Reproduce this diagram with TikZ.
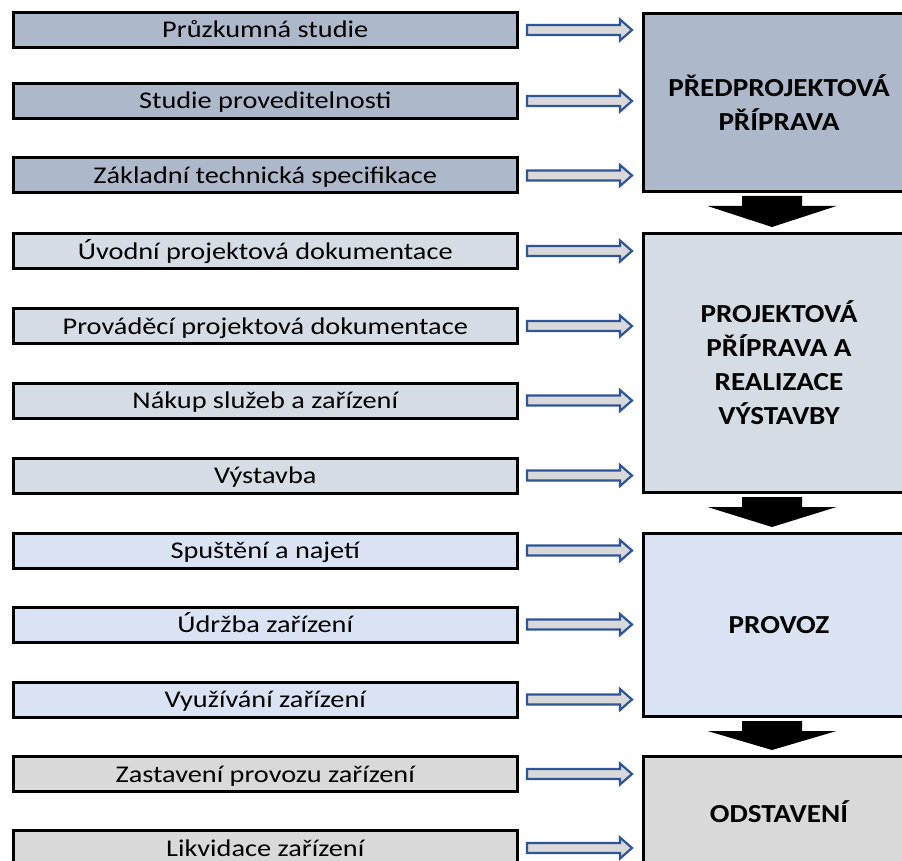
\documentclass[tikz,border=0pt]{standalone}
\usepackage{fontspec}
\setmainfont{Carlito}
\newfontfamily\itemfont[FakeStretch=1.18]{Carlito}
\newfontfamily\phasefont[FakeStretch=1.12]{Carlito}
\usetikzlibrary{calc}

\definecolor{rowA}{HTML}{ADB9CA}
\definecolor{rowB}{HTML}{D6DCE4}
\definecolor{rowC}{HTML}{DAE3F3}
\definecolor{rowD}{HTML}{D9D9D9}
\definecolor{feededge}{HTML}{2F5597}
\definecolor{feedfill}{HTML}{D9D9D9}

\tikzset{
  item/.style={draw=black, line width=3pt, minimum width=503.5pt, minimum height=35pt,
    inner sep=0pt, outer sep=0pt, text height=16pt, text depth=0pt,
    font=\itemfont\fontsize{24}{28}\selectfont},
  phase/.style={draw=black, line width=3pt, anchor=north west, minimum width=271pt,
    inner sep=0pt, outer sep=0pt, align=center,
    font=\phasefont\bfseries\fontsize{26}{34}\selectfont},
  feed/.style={draw=feededge, fill=feedfill, line width=2.2pt, line join=miter},
  stage/.style={fill=black},
}

% hollow arrow from an activity box towards its phase box
\newcommand\feedarrow[2]{%
  \draw[feed] let \p1=(#1.east), \p2=(#2.west) in
    (\x1+10pt,\y1+5pt) -- (\x2-23.5pt,\y1+5pt) -- (\x2-23.5pt,\y1+10.5pt)
    -- (\x2-11.5pt,\y1) -- (\x2-23.5pt,\y1-10.5pt) -- (\x2-23.5pt,\y1-5pt)
    -- (\x1+10pt,\y1-5pt) -- cycle;}

% solid block arrow from one phase to the next
\newcommand\stagearrow[2]{%
  \fill[stage] let \p1=(#1.south), \p2=(#2.north), \n1={\x1-7pt} in
    (\n1-30pt,\y1-4.5pt) -- (\n1+30pt,\y1-4.5pt) -- (\n1+30pt,\y1-14.5pt)
    -- (\n1+64.5pt,\y1-14.5pt) -- (\n1,\y2+6.5pt) -- (\n1-64.5pt,\y1-14.5pt)
    -- (\n1-30pt,\y1-14.5pt) -- cycle;}

\begin{document}
\begin{tikzpicture}[x=1pt,y=-1pt]
\useasboundingbox (0,0) rectangle (902,861);
\clip (0,0) rectangle (902,861);

% activities
\node[item, fill=rowA] (l1)  at (265.25,30)    {Průzkumná studie};
\node[item, fill=rowA] (l2)  at (265.25,101)   {Studie proveditelnosti};
\node[item, fill=rowA] (l3)  at (265.25,175.5) {Základní technická specifikace};
\node[item, fill=rowB] (l4)  at (265.25,251)   {Úvodní projektová dokumentace};
\node[item, fill=rowB] (l5)  at (265.25,326)   {Prováděcí projektová dokumentace};
\node[item, fill=rowB] (l6)  at (265.25,400.5) {Nákup služeb a zařízení};
\node[item, fill=rowB] (l7)  at (265.25,475.5) {Výstavba};
\node[item, fill=rowC] (l8)  at (265.25,550.5) {Spuštění a najetí};
\node[item, fill=rowC] (l9)  at (265.25,624.5) {Údržba zařízení};
\node[item, fill=rowC] (l10) at (265.25,699.5) {Využívání zařízení};
\node[item, fill=rowD] (l11) at (265.25,774)   {Zastavení provozu zařízení};
\node[item, fill=rowD] (l12) at (265.25,848)   {Likvidace zařízení};

% phases
\node[phase, fill=rowA, minimum height=178pt] (p1) at (643.5,13.5)
  {PŘEDPROJEKTOVÁ\\PŘÍPRAVA};
\node[phase, fill=rowB, minimum height=259pt] (p2) at (643.5,233.5)
  {PROJEKTOVÁ\\PŘÍPRAVA A\\REALIZACE\\VÝSTAVBY};
\node[phase, fill=rowC, minimum height=183pt] (p3) at (643.5,533.5)
  {PROVOZ};
\node[phase, fill=rowD, minimum height=111pt] (p4) at (643.5,756.5)
  {ODSTAVENÍ};

% activity -> phase
\feedarrow{l1}{p1}
\feedarrow{l2}{p1}
\feedarrow{l3}{p1}
\feedarrow{l4}{p2}
\feedarrow{l5}{p2}
\feedarrow{l6}{p2}
\feedarrow{l7}{p2}
\feedarrow{l8}{p3}
\feedarrow{l9}{p3}
\feedarrow{l10}{p3}
\feedarrow{l11}{p4}
\feedarrow{l12}{p4}

% phase -> phase
\stagearrow{p1}{p2}
\stagearrow{p2}{p3}
\stagearrow{p3}{p4}
\end{tikzpicture}
\end{document}
